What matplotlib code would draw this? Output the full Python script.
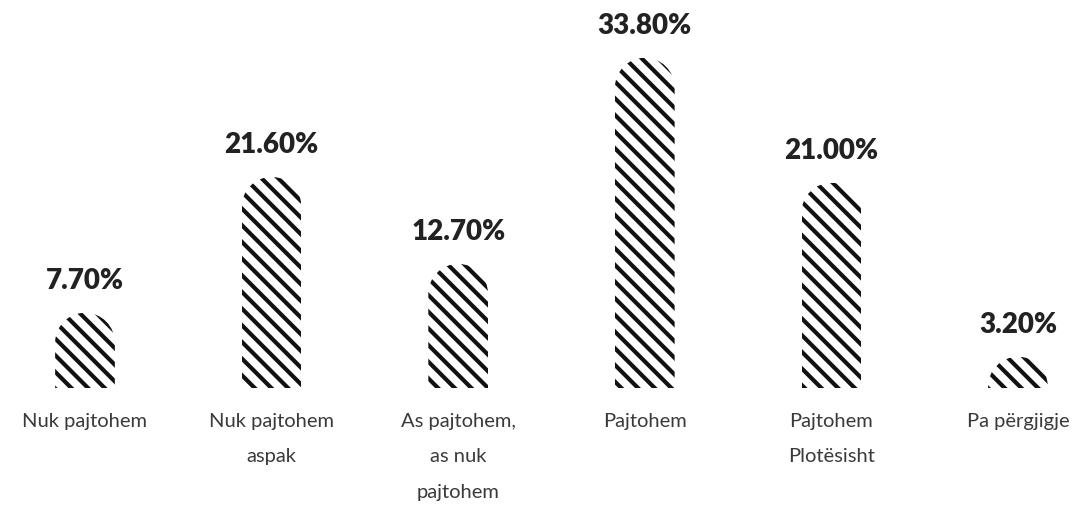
import matplotlib
matplotlib.use("Agg")
import matplotlib.pyplot as plt
from matplotlib.path import Path
from matplotlib.transforms import IdentityTransform

categories = ["Nuk pajtohem", "Nuk pajtohem\naspak", "As pajtohem,\nas nuk\npajtohem",
              "Pajtohem", "Pajtohem\nPlotësisht", "Pa përgjigje"]
values = [7.7, 21.6, 12.7, 33.8, 21.0, 3.2]
value_labels = ["7.70%", "21.60%", "12.70%", "33.80%", "21.00%", "3.20%"]

plt.rcParams['hatch.linewidth'] = 3.0
fig = plt.figure(figsize=(10.84, 5.08), dpi=100)
ax = fig.add_axes([0, 120/508, 1, 371.3/508])
ax.set_xlim(-0.4555, 5.354)
ax.set_ylim(0, 38)
ax.axis('off')

x = list(range(len(values)))
bars = ax.bar(x, values, width=0.32, facecolor='white', edgecolor='#111111',
              linewidth=0, hatch='\\\\')

for xi, v, lab in zip(x, values, value_labels):
    ax.annotate(lab, (xi, v), xytext=(0, 32), textcoords='offset pixels',
                ha='center', va='center', fontsize=20, fontweight='heavy',
                family=['Lato', 'DejaVu Sans'], color='#222222')

for xi, cat in zip(x, categories):
    ax.annotate(cat, (xi, 0), xytext=(0, -25), textcoords='offset pixels',
                ha='center', va='top', fontsize=14.5, fontweight='normal',
                family=['Lato', 'DejaVu Sans'], color='#3a3a3a', linespacing=2.32)

fig.canvas.draw()
for b in bars:
    bb = b.get_window_extent()
    x0, x1, y0, y1 = bb.x0, bb.x1, bb.y0, bb.y1
    r = min((x1 - x0) / 2, y1 - y0)
    k = 0.5523
    verts = [(x0, y0), (x1, y0), (x1, y1 - r),
             (x1, y1 - r + k * r), (x1 - r + k * r, y1), (x1 - r, y1),
             (x0 + r, y1),
             (x0 + r - k * r, y1), (x0, y1 - r + k * r), (x0, y1 - r),
             (x0, y0)]
    codes = [Path.MOVETO, Path.LINETO, Path.LINETO,
             Path.CURVE4, Path.CURVE4, Path.CURVE4,
             Path.LINETO,
             Path.CURVE4, Path.CURVE4, Path.CURVE4,
             Path.CLOSEPOLY]
    b.set_clip_path(Path(verts, codes), IdentityTransform())

fig.savefig("out.png", dpi=100)
